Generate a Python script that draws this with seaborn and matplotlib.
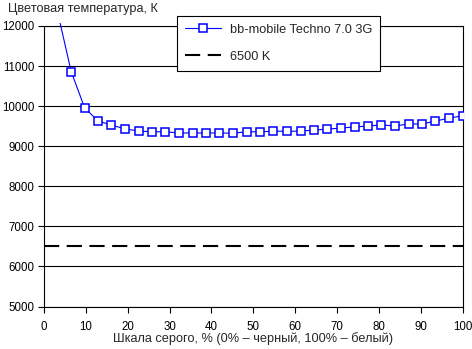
import matplotlib
matplotlib.use("Agg")
import matplotlib.pyplot as plt
from matplotlib.patches import Rectangle
import seaborn as sns
import pandas as pd

# Grey level (%) and measured colour temperature (K)
grey_level = [0, 3.2, 6.5, 9.7, 12.9, 16.1, 19.4, 22.6, 25.8, 29.0, 32.3, 35.5,
              38.7, 41.9, 45.2, 48.4, 51.6, 54.8, 58.1, 61.3, 64.5, 67.7, 71.0,
              74.2, 77.4, 80.6, 83.9, 87.1, 90.3, 93.5, 96.8, 100]
color_temp = [13600, 12370, 10860, 9960, 9630, 9530, 9430, 9380, 9360, 9360,
              9330, 9330, 9330, 9330, 9325, 9360, 9360, 9375, 9375, 9375, 9405,
              9425, 9455, 9480, 9505, 9530, 9505, 9555, 9555, 9625, 9705, 9755]
series_name = "bb-mobile Techno 7.0 3G"
reference_temp = 6500
reference_name = "6500 K"

y_ticks = [5000, 6000, 7000, 8000, 9000, 10000, 11000, 12000]
x_ticks = [0, 10, 20, 30, 40, 50, 60, 70, 80, 90, 100]
x_label = "Шкала серого, % (0% – черный, 100% – белый)"
y_label = "Цветовая температура, К"

sns.set_style("white")
plt.rcParams["font.family"] = ["Liberation Sans", "DejaVu Sans"]
plt.rcParams["font.size"] = 9.2

W, H = 472, 349
fig = plt.figure(figsize=(W / 100, H / 100), dpi=100)
ax = fig.add_axes([44 / W, 1 - 306.5 / H, (462.5 - 44) / W, (306.5 - 26) / H])

df = pd.DataFrame({"grey": grey_level, "temp": color_temp})
sns.lineplot(data=df, x="grey", y="temp", ax=ax, color="#0000ff", lw=0.8,
             marker="s", markersize=5.6, markeredgewidth=1.1,
             markerfacecolor="white", markeredgecolor="#0000ff",
             label=series_name, zorder=4)
ax.axhline(reference_temp, color="black", lw=1.5, dashes=(7.3, 3.6),
           label=reference_name, zorder=3)

ax.set_xlim(0, 100)
ax.set_ylim(5000, 12000)

# let the steep start of the curve run slightly past the top gridline
clip = Rectangle((0, 0), 1, 1 + 3.5 / 280.5, transform=ax.transAxes)
ax.lines[0].set_clip_path(clip)

ax.set_xticks(x_ticks)
ax.set_yticks(y_ticks)
ax.yaxis.grid(True, color="black", lw=0.8)
ax.xaxis.grid(False)
for side in ["left", "right", "top", "bottom"]:
    ax.spines[side].set_visible(True)
    ax.spines[side].set_color("black")
    ax.spines[side].set_linewidth(0.8)
ax.tick_params(axis="both", which="major", direction="out", length=4,
               width=0.8, color="black", labelsize=8.3, labelcolor="black",
               pad=3)
ax.tick_params(axis="y", left=True, right=False)
ax.tick_params(axis="x", bottom=True, top=False, pad=6.5)

ax.set_xlabel(x_label, fontsize=9.2, labelpad=-0.5)
ax.set_ylabel("")
fig.text(8 / W, 1 - 9 / H, y_label, fontsize=9.2, ha="left", va="center")

leg = ax.legend(loc="upper left", bbox_to_anchor=(177 / W, 1 - 16 / H),
                bbox_transform=fig.transFigure, frameon=True, fancybox=False,
                framealpha=1, edgecolor="black", fontsize=9.2,
                handlelength=2.8, handletextpad=0.7, labelspacing=1.15,
                borderpad=0.62, borderaxespad=0)
leg.get_frame().set_linewidth(0.8)
leg.set_zorder(10)

fig.savefig("out.png", dpi=100, facecolor="white")
